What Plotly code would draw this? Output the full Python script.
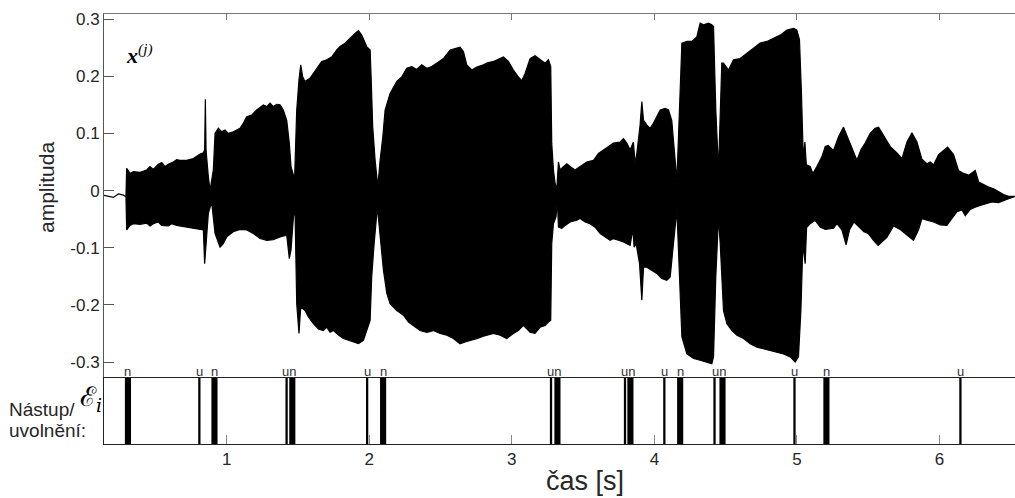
import plotly.graph_objects as go

# ---------------- data ----------------
# upper envelope of the waveform x^(j)
up_t = [0.134, 0.169, 0.205, 0.240, 0.275, 0.293, 0.298, 0.321, 0.345, 0.392, 0.438, 0.462, 0.485,
        0.520, 0.544, 0.567, 0.590, 0.625, 0.649, 0.672, 0.719, 0.766, 0.813, 0.836, 0.845, 0.850,
        0.855, 0.871, 0.883, 0.906, 0.918, 0.941, 0.965, 0.988, 1.011, 1.046, 1.093, 1.117, 1.140,
        1.175, 1.210, 1.257, 1.281, 1.304, 1.327, 1.351, 1.374, 1.397, 1.421, 1.439, 1.451, 1.476,
        1.491, 1.507, 1.514, 1.519, 1.533, 1.549, 1.585, 1.608, 1.631, 1.666, 1.702, 1.737, 1.772,
        1.795, 1.830, 1.865, 1.900, 1.924, 1.947, 1.982, 2.006, 2.013, 2.024, 2.041, 2.060, 2.076,
        2.095, 2.111, 2.127, 2.146, 2.193, 2.228, 2.263, 2.298, 2.333, 2.368, 2.403, 2.438, 2.473,
        2.520, 2.567, 2.602, 2.637, 2.661, 2.684, 2.719, 2.754, 2.801, 2.824, 2.871, 2.918, 2.941,
        2.976, 3.011, 3.046, 3.070, 3.093, 3.128, 3.163, 3.199, 3.234, 3.257, 3.273, 3.280, 3.292,
        3.304, 3.315, 3.327, 3.339, 3.362, 3.386, 3.409, 3.444, 3.479, 3.526, 3.573, 3.608, 3.643,
        3.678, 3.713, 3.760, 3.783, 3.807, 3.830, 3.853, 3.865, 3.877, 3.900, 3.912, 3.924, 3.947,
        3.970, 3.994, 4.017, 4.041, 4.076, 4.099, 4.122, 4.134, 4.158, 4.176, 4.193, 4.228, 4.263,
        4.298, 4.321, 4.345, 4.380, 4.403, 4.415, 4.431, 4.450, 4.473, 4.485, 4.520, 4.555, 4.602,
        4.649, 4.696, 4.742, 4.789, 4.836, 4.883, 4.930, 4.976, 4.999, 5.018, 5.032, 5.045, 5.056,
        5.066, 5.093, 5.112, 5.140, 5.175, 5.199, 5.220, 5.257, 5.292, 5.327, 5.351, 5.386, 5.421,
        5.450, 5.479, 5.514, 5.549, 5.573, 5.608, 5.655, 5.702, 5.737, 5.772, 5.807, 5.842, 5.877,
        5.912, 5.935, 5.959, 5.994, 6.057, 6.099, 6.134, 6.169, 6.205, 6.251, 6.275, 6.310, 6.345,
        6.380, 6.415, 6.450, 6.485, 6.525]
up_v = [-0.008, -0.010, -0.012, -0.006, -0.008, -0.011, 0.039, 0.030, 0.033, 0.032, 0.036, 0.042, 0.037,
        0.046, 0.049, 0.042, 0.046, 0.050, 0.054, 0.053, 0.053, 0.056, 0.064, 0.066, 0.071, 0.160,
        0.071, 0.024, 0.001, 0.036, 0.100, 0.109, 0.103, 0.106, 0.100, 0.103, 0.109, 0.118, 0.129,
        0.132, 0.141, 0.150, 0.147, 0.153, 0.147, 0.151, 0.150, 0.141, 0.123, 0.083, 0.042, 0.020,
        0.141, 0.194, 0.220, 0.220, 0.199, 0.191, 0.197, 0.205, 0.214, 0.226, 0.229, 0.234, 0.246,
        0.252, 0.258, 0.267, 0.275, 0.280, 0.272, 0.252, 0.246, 0.199, 0.112, 0.053, 0.007, 0.053,
        0.094, 0.141, 0.153, 0.170, 0.191, 0.199, 0.214, 0.217, 0.212, 0.220, 0.214, 0.217, 0.223,
        0.231, 0.246, 0.249, 0.251, 0.243, 0.220, 0.211, 0.216, 0.220, 0.223, 0.226, 0.231, 0.234,
        0.226, 0.211, 0.199, 0.192, 0.205, 0.231, 0.236, 0.229, 0.223, 0.229, 0.217, 0.083, 0.036,
        0.012, 0.001, 0.050, 0.036, 0.042, 0.047, 0.042, 0.036, 0.042, 0.050, 0.053, 0.065, 0.071,
        0.077, 0.083, 0.085, 0.091, 0.083, 0.071, 0.085, 0.047, 0.065, 0.115, 0.156, 0.123, 0.115,
        0.109, 0.118, 0.129, 0.141, 0.144, 0.141, 0.123, 0.083, 0.018, 0.141, 0.258, 0.261, 0.261,
        0.269, 0.293, 0.290, 0.293, 0.290, 0.287, 0.141, 0.036, 0.223, 0.223, 0.211, 0.229, 0.231,
        0.240, 0.249, 0.258, 0.261, 0.267, 0.272, 0.281, 0.284, 0.281, 0.264, 0.170, 0.055, 0.085,
        0.045, 0.042, 0.030, 0.042, 0.059, 0.077, 0.079, 0.070, 0.094, 0.111, 0.096, 0.075, 0.053,
        0.072, 0.083, 0.100, 0.109, 0.111, 0.097, 0.077, 0.066, 0.056, 0.085, 0.101, 0.085, 0.055,
        0.047, 0.050, 0.045, 0.063, 0.076, 0.063, 0.035, 0.030, 0.027, 0.035, 0.015, 0.010, 0.006,
        0.003, -0.002, -0.007, -0.010, -0.010]

# lower envelope of the waveform x^(j)
lo_t = [0.134, 0.169, 0.205, 0.240, 0.275, 0.293, 0.298, 0.321, 0.345, 0.392, 0.438, 0.462, 0.485,
        0.520, 0.544, 0.590, 0.613, 0.649, 0.719, 0.790, 0.836, 0.845, 0.855, 0.871, 0.894, 0.918,
        0.953, 0.976, 1.000, 1.046, 1.093, 1.140, 1.187, 1.234, 1.281, 1.327, 1.374, 1.421, 1.439,
        1.451, 1.468, 1.479, 1.491, 1.507, 1.519, 1.549, 1.573, 1.608, 1.643, 1.678, 1.702, 1.725,
        1.749, 1.784, 1.818, 1.853, 1.888, 1.924, 1.959, 1.982, 2.006, 2.017, 2.034, 2.057, 2.076,
        2.099, 2.123, 2.146, 2.193, 2.240, 2.275, 2.310, 2.356, 2.403, 2.450, 2.497, 2.544, 2.590,
        2.637, 2.672, 2.707, 2.754, 2.801, 2.824, 2.871, 2.918, 2.964, 3.011, 3.046, 3.081, 3.128,
        3.163, 3.199, 3.234, 3.257, 3.273, 3.280, 3.292, 3.310, 3.320, 3.327, 3.350, 3.374, 3.409,
        3.456, 3.479, 3.514, 3.549, 3.584, 3.620, 3.655, 3.690, 3.713, 3.748, 3.783, 3.807, 3.830,
        3.849, 3.858, 3.872, 3.896, 3.912, 3.924, 3.947, 3.982, 4.017, 4.052, 4.087, 4.111, 4.134,
        4.158, 4.176, 4.193, 4.228, 4.275, 4.321, 4.368, 4.403, 4.415, 4.431, 4.450, 4.462, 4.485,
        4.509, 4.544, 4.579, 4.626, 4.672, 4.719, 4.766, 4.813, 4.859, 4.906, 4.953, 4.988, 5.011,
        5.028, 5.042, 5.050, 5.058, 5.068, 5.093, 5.128, 5.163, 5.199, 5.257, 5.281, 5.316, 5.345,
        5.370, 5.400, 5.430, 5.470, 5.500, 5.540, 5.570, 5.631, 5.678, 5.725, 5.772, 5.818, 5.854,
        5.877, 5.912, 5.959, 6.006, 6.052, 6.087, 6.123, 6.158, 6.181, 6.216, 6.251, 6.286, 6.321,
        6.368, 6.415, 6.450, 6.485, 6.525]
lo_v = [-0.008, -0.010, -0.012, -0.006, -0.008, -0.011, -0.069, -0.061, -0.058, -0.059, -0.057, -0.062,
        -0.058, -0.055, -0.061, -0.062, -0.058, -0.061, -0.064, -0.067, -0.069, -0.128, -0.087, -0.040,
        -0.020, -0.075, -0.099, -0.093, -0.081, -0.072, -0.068, -0.069, -0.075, -0.084, -0.087, -0.086,
        -0.081, -0.078, -0.119, -0.104, -0.046, -0.034, -0.198, -0.250, -0.204, -0.210, -0.221, -0.233,
        -0.242, -0.245, -0.239, -0.248, -0.245, -0.253, -0.259, -0.262, -0.265, -0.268, -0.262, -0.245,
        -0.227, -0.151, -0.093, -0.029, -0.081, -0.139, -0.180, -0.198, -0.210, -0.218, -0.230, -0.236,
        -0.245, -0.248, -0.245, -0.250, -0.253, -0.259, -0.268, -0.265, -0.262, -0.259, -0.255, -0.253,
        -0.250, -0.253, -0.259, -0.250, -0.245, -0.236, -0.248, -0.250, -0.239, -0.236, -0.230, -0.227,
        -0.093, -0.058, -0.046, -0.017, -0.064, -0.066, -0.061, -0.055, -0.052, -0.049, -0.055, -0.058,
        -0.064, -0.075, -0.081, -0.087, -0.084, -0.087, -0.090, -0.093, -0.096, -0.067, -0.099, -0.093,
        -0.128, -0.192, -0.134, -0.134, -0.140, -0.145, -0.154, -0.157, -0.151, -0.093, -0.034, -0.151,
        -0.256, -0.286, -0.294, -0.297, -0.300, -0.303, -0.291, -0.151, -0.046, -0.093, -0.210, -0.233,
        -0.245, -0.253, -0.259, -0.268, -0.274, -0.277, -0.280, -0.283, -0.286, -0.291, -0.300, -0.291,
        -0.210, -0.093, -0.110, -0.128, -0.065, -0.058, -0.052, -0.064, -0.068, -0.066, -0.058, -0.069,
        -0.095, -0.068, -0.055, -0.062, -0.072, -0.075, -0.088, -0.096, -0.082, -0.062, -0.068, -0.078,
        -0.087, -0.068, -0.049, -0.052, -0.055, -0.060, -0.061, -0.050, -0.037, -0.034, -0.044, -0.033,
        -0.029, -0.026, -0.023, -0.020, -0.021, -0.017, -0.014, -0.011]

# onset ("n" = nástup) and release ("u" = uvolnění) events [s]
onset_times = [0.307, 0.914, 1.460, 2.097, 3.320, 3.832, 4.181, 4.478, 5.207]
release_times = [0.808, 1.420, 1.985, 3.275, 3.794, 4.070, 4.422, 4.983, 6.147]
onset_label = "n"
release_label = "u"

x_ticks = [1, 2, 3, 4, 5, 6]
x_ticktext = ["1", "2", "3", "4", "5", "6"]
y_ticks = [0.3, 0.2, 0.1, 0, -0.1, -0.2, -0.3]
y_ticktext = ["0.3", "0.2", "0.1", "0", "-0.1", "-0.2", "-0.3"]

# ---------------- figure ----------------
W, H = 1015, 498
L, R, T, B = 104, 0, 14, 54
plot_h = H - T - B
split = 66 / plot_h  # bottom event strip height fraction

FONT = "Liberation Sans, Arial, Helvetica, sans-serif"
AX = "#262626"

fig = go.Figure()

poly_x = list(up_t) + list(reversed(lo_t))
poly_y = list(up_v) + list(reversed(lo_v))
fig.add_trace(go.Scatter(x=poly_x, y=poly_y, mode="lines", fill="toself",
                         fillcolor="black", line=dict(color="black", width=1.2),
                         xaxis="x", yaxis="y", hoverinfo="skip", showlegend=False))

fig.add_trace(go.Bar(x=onset_times, y=[1] * len(onset_times), width=[0.043] * len(onset_times),
                     marker=dict(color="black", line=dict(width=0)),
                     xaxis="x2", yaxis="y2", showlegend=False, hoverinfo="x"))
fig.add_trace(go.Bar(x=release_times, y=[1] * len(release_times), width=[0.016] * len(release_times),
                     marker=dict(color="black", line=dict(width=0)),
                     xaxis="x2", yaxis="y2", showlegend=False, hoverinfo="x"))

xr = [0.139, 6.530]

# event labels; a release immediately followed by an onset is written as "un"
lab_font = dict(family=FONT, size=13, color="#333")
annotations = []
paired_onsets = set()
for tu in release_times:
    partner = [tn for tn in onset_times if 0 < tn - tu < 0.07]
    if partner:
        tn = partner[0]
        paired_onsets.add(tn)
        mid = (tu + tn) / 2
        annotations.append(dict(x=mid, y=1, xref="x2", yref="y2", text=release_label + onset_label,
                                showarrow=False, yanchor="bottom", xanchor="center",
                                font=lab_font, yshift=-3))
    else:
        annotations.append(dict(x=tu, y=1, xref="x2", yref="y2", text=release_label,
                                showarrow=False, yanchor="bottom", font=lab_font, yshift=-3))
for tn in onset_times:
    if tn not in paired_onsets:
        annotations.append(dict(x=tn, y=1, xref="x2", yref="y2", text=onset_label,
                                showarrow=False, yanchor="bottom", font=lab_font, yshift=-3))


def px_x(p):
    return (p - L) / (W - L - R)


def px_y(p):
    return (H - B - p) / plot_h


annotations += [
    dict(x=px_x(47), y=px_y(187), xref="paper", yref="paper", text="amplituda", textangle=-90,
         showarrow=False, xanchor="center", yanchor="middle",
         font=dict(family=FONT, size=21, color=AX)),
    dict(x=px_x(585), y=px_y(481), xref="paper", yref="paper", text="čas [s]",
         showarrow=False, xanchor="center", yanchor="middle",
         font=dict(family=FONT, size=27, color=AX)),
    dict(x=px_x(7), y=px_y(409), xref="paper", yref="paper", text="Nástup/",
         showarrow=False, xanchor="left", yanchor="middle",
         font=dict(family=FONT, size=19, color=AX)),
    dict(x=px_x(7), y=px_y(430), xref="paper", yref="paper", text="uvolnění:",
         showarrow=False, xanchor="left", yanchor="middle",
         font=dict(family=FONT, size=19, color=AX)),
    dict(x=px_x(91), y=px_y(398), xref="paper", yref="paper", text="ℰ<sub><i>i</i></sub>",
         showarrow=False, xanchor="center", yanchor="middle",
         font=dict(family="DejaVu Serif, Liberation Serif, serif", size=27, color="black")),
    dict(x=px_x(124), y=px_y(54), xref="paper", yref="paper",
         text="<b><i>x</i></b><sup><i>(j)</i></sup>",
         showarrow=False, xanchor="left", yanchor="middle",
         font=dict(family="Liberation Serif, Times New Roman, serif", size=22, color="black")),
]

fig.update_layout(
    width=W, height=H,
    margin=dict(l=L, r=R, t=T, b=B, pad=0),
    paper_bgcolor="white", plot_bgcolor="white",
    showlegend=False, barmode="overlay",
    font=dict(family=FONT, color=AX),
    xaxis=dict(domain=[0, 1], range=xr, anchor="y", side="top",
               showline=True, linecolor="#777", linewidth=1,
               ticks="inside", ticklen=6, tickcolor="#777", tickvals=x_ticks,
               showticklabels=False, showgrid=False, zeroline=False),
    yaxis=dict(domain=[split, 1], range=[-0.328, 0.309], anchor="x",
               showline=True, linecolor="#555", linewidth=1,
               ticks="inside", ticklen=10, tickcolor="#555",
               tickvals=y_ticks, ticktext=y_ticktext,
               tickfont=dict(family=FONT, size=17, color=AX),
               showgrid=False, zeroline=False),
    xaxis2=dict(domain=[0, 1], range=xr, anchor="y2", matches="x",
                showline=True, mirror=True, linecolor="#222", linewidth=1,
                ticks="inside", ticklen=9, tickcolor="#888",
                tickvals=x_ticks, ticktext=x_ticktext,
                tickfont=dict(family=FONT, size=17, color=AX),
                showgrid=False, zeroline=False),
    yaxis2=dict(domain=[0, split], range=[0, 1], anchor="x2",
                showline=True, linecolor="#222", linewidth=1,
                ticks="", showticklabels=False, showgrid=False, zeroline=False),
    annotations=annotations,
)

fig.write_html("out.html")
